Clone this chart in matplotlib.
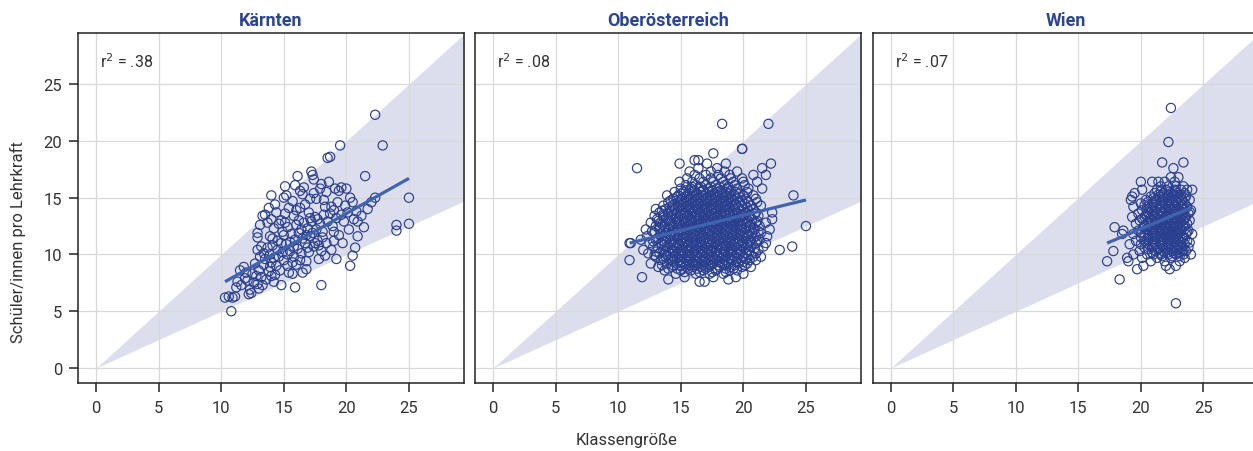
import matplotlib.pyplot as plt
import numpy as np

plt.rcParams['font.family'] = ['Roboto', 'DejaVu Sans']

regions = ["Kärnten", "Oberösterreich", "Wien"]
r2_labels = [".38", ".08", ".07"]

# Kärnten, read point by point
kaernten_pts = [
    (10.3, 6.2), (10.6, 6.3), (10.9, 6.2), (11.1, 6.3), (10.8, 5.0), (11.5, 8.6), (11.9, 7.9),
    (11.6, 7.3), (11.3, 7.6), (12.0, 8.4), (11.8, 8.9), (12.2, 6.5), (12.4, 6.6), (12.3, 6.9),
    (12.6, 7.5), (12.9, 7.4), (12.8, 8.1), (13.0, 8.6), (12.7, 9.2), (13.1, 9.8), (12.9, 10.4),
    (13.2, 10.7), (12.9, 11.5), (12.9, 11.9), (13.3, 13.4), (13.5, 13.5), (13.2, 8.0), (13.4, 9.1),
    (13.0, 7.0), (13.4, 10.1), (13.1, 12.6),
    (13.6, 7.8), (13.8, 8.5), (14.0, 9.3), (13.9, 10.0), (14.1, 10.8), (13.9, 11.6), (14.2, 12.3),
    (14.0, 13.1), (14.3, 14.4), (14.0, 15.2), (14.4, 9.0), (14.3, 8.2), (13.7, 12.8), (14.5, 11.2),
    (14.5, 10.4), (14.2, 7.6), (13.8, 14.1), (14.4, 13.7),
    (14.8, 7.3), (14.7, 8.6), (15.0, 9.5), (14.9, 10.2), (15.2, 10.9), (15.0, 11.7), (15.3, 12.4),
    (14.8, 13.0), (15.1, 13.6), (15.2, 15.2), (15.0, 15.0), (15.4, 14.1), (15.3, 9.0), (14.9, 12.0),
    (15.5, 11.1), (15.4, 8.4), (15.1, 16.0), (15.5, 10.3),
    (15.9, 7.1), (15.7, 8.3), (16.0, 9.1), (15.8, 9.8), (16.1, 10.5), (15.9, 11.3), (16.2, 11.9),
    (16.0, 12.6), (15.8, 13.4), (16.3, 14.1), (15.9, 16.1), (16.3, 15.6), (16.5, 15.3), (16.5, 8.4),
    (16.4, 10.1), (16.2, 13.0), (15.7, 14.7), (16.4, 12.2), (16.1, 16.9),
    (16.8, 9.4), (17.0, 10.2), (16.7, 11.0), (17.1, 11.6), (16.9, 12.3), (17.2, 12.9), (17.0, 13.7),
    (16.7, 14.4), (17.2, 17.3), (17.3, 17.0), (17.4, 16.6), (17.1, 14.9), (17.4, 10.7), (16.8, 8.7),
    (17.3, 11.9), (17.5, 13.3), (16.6, 15.9), (17.4, 15.4),
    (18.0, 7.3), (17.8, 9.6), (18.0, 10.3), (17.7, 11.2), (18.1, 12.0), (17.9, 12.7), (18.2, 13.5),
    (18.0, 16.2), (18.5, 18.5), (18.3, 14.2), (17.6, 14.9), (18.4, 11.0), (18.4, 15.5), (17.7, 13.1),
    (18.3, 9.9), (17.9, 15.8),
    (18.7, 18.6), (18.8, 10.4), (19.0, 11.2), (18.9, 12.5), (19.2, 13.2), (19.0, 13.9), (19.3, 14.6),
    (19.1, 15.8), (19.4, 15.6), (19.5, 19.6), (18.6, 16.4), (19.4, 11.7), (18.8, 14.2), (19.2, 9.6),
    (19.6, 15.9), (20.0, 15.8), (20.3, 15.0), (19.8, 12.9), (20.1, 13.7), (20.5, 9.9), (20.3, 9.0),
    (20.7, 10.6), (19.7, 11.0), (20.2, 12.2), (20.6, 13.1), (20.9, 12.9), (20.9, 11.6), (19.9, 14.3),
    (20.5, 14.6), (20.8, 13.8),
    (21.2, 13.4), (21.7, 14.0), (21.5, 16.9), (22.3, 15.0), (22.3, 22.3), (22.9, 19.6), (24.0, 12.6),
    (24.0, 12.1), (25.0, 12.7), (25.0, 15.0), (21.4, 12.4), (22.0, 14.6),
    (13.5, 9.6), (13.7, 10.6), (14.1, 11.4), (14.6, 9.8), (14.8, 11.0), (15.1, 12.8), (15.3, 10.0),
    (15.6, 11.8), (15.8, 10.7), (16.0, 13.9), (16.3, 9.5), (16.5, 11.4), (16.6, 12.8), (16.9, 10.6),
    (17.1, 13.2), (17.6, 12.2), (17.8, 10.8), (18.1, 11.5), (18.5, 12.9), (18.7, 13.6), (19.0, 12.0),
    (14.2, 9.7), (14.6, 12.7), (13.9, 8.9), (15.7, 9.3), (16.8, 11.7), (17.5, 11.0), (18.2, 14.8),
    (19.6, 13.5), (12.5, 8.3), (12.1, 7.7), (13.3, 7.3), (14.0, 8.1), (11.2, 7.1),
]

# Oberösterreich, read row by row (y value, x values in that row)
ooe_y_rows = [7.6, 7.8, 8.0, 8.3, 8.6, 8.9, 9.2, 9.5, 9.8, 10.1, 10.4, 10.7, 11.0, 11.3, 11.6,
              11.9, 12.2, 12.5, 12.8, 13.1, 13.4, 13.7, 14.0, 14.3, 14.6, 14.9, 15.2, 15.5, 15.8,
              16.1, 16.4, 16.7, 17.0, 17.3, 17.6, 18.0, 18.3, 18.9, 19.3, 21.5,
              8.45, 8.75, 9.05, 9.35, 9.65, 9.95, 10.25, 10.55, 10.85, 11.15, 11.45, 11.75, 12.05,
              12.35, 12.65, 12.95, 13.25, 13.55, 13.85, 14.15, 14.45, 14.75, 15.05, 15.35, 15.65, 15.95]
ooe_x_rows = [
    [16.5, 16.9],
    [14.0, 18.8],
    [11.9, 15.3, 17.6, 19.4],
    [14.6, 16.2, 17.3, 18.4, 20.0],
    [13.7, 15.0, 15.8, 16.8, 17.8, 18.9, 19.5],
    [13.2, 14.3, 15.4, 16.0, 16.6, 17.2, 18.1, 19.0, 19.9, 20.6],
    [12.6, 13.9, 14.7, 15.2, 15.9, 16.4, 17.0, 17.6, 18.3, 18.8, 19.6, 20.3],
    [10.9, 13.4, 14.2, 14.9, 15.5, 16.1, 16.7, 17.3, 17.9, 18.5, 19.1, 19.8, 20.5, 21.0],
    [13.0, 13.8, 14.5, 15.1, 15.7, 16.3, 16.9, 17.5, 18.0, 18.6, 19.3, 20.0, 20.8, 21.4],
    [12.4, 13.3, 14.1, 14.8, 15.3, 15.9, 16.5, 17.1, 17.7, 18.2, 18.8, 19.5, 20.2, 21.0],
    [12.0, 13.6, 14.4, 15.0, 15.6, 16.2, 16.8, 17.4, 17.9, 18.5, 19.1, 19.7, 20.4, 21.2, 22.9],
    [12.8, 13.9, 14.6, 15.2, 15.8, 16.4, 17.0, 17.6, 18.2, 18.7, 19.3, 20.0, 20.6, 21.6, 23.9],
    [10.9, 11.0, 12.5, 13.4, 14.2, 14.8, 15.4, 16.0, 16.6, 17.2, 17.8, 18.4, 19.0, 19.6, 20.3, 21.0, 21.8],
    [11.8, 13.0, 13.8, 14.5, 15.1, 15.7, 16.3, 16.9, 17.5, 18.1, 18.7, 19.3, 19.9, 20.6, 21.3],
    [12.3, 13.5, 14.2, 14.9, 15.5, 16.1, 16.7, 17.3, 17.9, 18.5, 19.1, 19.7, 20.3, 21.0, 21.9],
    [12.9, 13.8, 14.5, 15.2, 15.8, 16.4, 17.0, 17.6, 18.2, 18.8, 19.4, 20.0, 20.7, 21.4],
    [12.2, 13.3, 14.1, 14.8, 15.4, 16.0, 16.6, 17.2, 17.8, 18.4, 19.0, 19.6, 20.2, 20.9, 22.1],
    [13.0, 13.7, 14.4, 15.1, 15.7, 16.3, 16.9, 17.5, 18.1, 18.7, 19.3, 19.9, 20.5, 21.3, 25.0],
    [12.6, 13.4, 14.1, 14.8, 15.4, 16.0, 16.6, 17.2, 17.8, 18.4, 19.0, 19.6, 20.3, 21.0, 21.8],
    [13.1, 13.9, 14.6, 15.2, 15.8, 16.4, 17.0, 17.6, 18.2, 18.8, 19.4, 20.0, 20.7, 22.3],
    [12.9, 13.6, 14.3, 15.0, 15.6, 16.2, 16.8, 17.4, 18.0, 18.6, 19.2, 19.8, 20.5, 21.2],
    [13.3, 14.0, 14.7, 15.3, 15.9, 16.5, 17.1, 17.7, 18.3, 18.9, 19.5, 20.2, 21.0, 22.3],
    [13.0, 13.8, 14.5, 15.1, 15.7, 16.3, 16.9, 17.5, 18.1, 18.7, 19.3, 20.0, 20.8],
    [13.6, 14.3, 15.0, 15.6, 16.2, 16.8, 17.4, 18.0, 18.6, 19.2, 19.9, 20.6, 21.4],
    [14.0, 14.8, 15.4, 16.0, 16.6, 17.2, 17.8, 18.4, 19.0, 19.7, 20.4, 21.1],
    [14.4, 15.1, 15.8, 16.4, 17.0, 17.6, 18.2, 18.8, 19.5, 20.2, 21.0],
    [13.9, 14.8, 15.5, 16.2, 16.8, 17.4, 18.0, 18.6, 19.3, 20.0, 20.8, 24.0],
    [14.5, 15.2, 15.9, 16.6, 17.3, 17.9, 18.6, 19.4, 20.3],
    [15.0, 15.8, 16.5, 17.2, 17.9, 18.7, 19.5, 20.4, 21.5],
    [15.4, 16.2, 17.0, 17.8, 18.5, 19.3, 20.1],
    [14.9, 15.9, 16.8, 17.6, 18.4, 19.2, 20.0, 21.1],
    [15.5, 16.5, 17.4, 18.2, 19.0, 19.9],
    [16.1, 17.0, 18.0, 18.9, 20.8, 21.8],
    [15.7, 17.4, 18.5, 19.5],
    [11.5, 16.4, 17.9, 21.5],
    [14.9, 17.1, 18.6, 22.2],
    [16.1, 16.4],
    [17.6],
    [19.9, 19.9],
    [18.3, 22.0],
    # in-between rows of the dense core
    [15.3, 16.5, 17.5, 18.6],
    [14.0, 14.7, 15.6, 16.3, 17.0, 17.9, 18.6, 19.2],
    [13.5, 14.4, 15.0, 15.7, 16.2, 16.8, 17.4, 18.0, 18.5, 19.3, 20.1],
    [14.4, 15.0, 15.7, 16.3, 16.9, 17.4, 18.1, 18.7, 19.4, 20.0],
    [13.6, 14.2, 14.7, 15.3, 15.8, 16.5, 17.0, 17.7, 18.3, 18.9, 19.5, 20.2],
    [12.9, 13.9, 14.6, 15.0, 15.6, 16.2, 16.7, 17.3, 17.9, 18.4, 19.1, 19.7, 20.6],
    [13.0, 13.8, 14.4, 15.1, 15.6, 16.1, 16.7, 17.4, 17.8, 18.5, 19.0, 19.8, 20.5],
    [13.2, 14.1, 14.7, 15.4, 15.9, 16.5, 17.1, 17.6, 18.3, 18.9, 19.5, 20.1, 20.9],
    [13.7, 14.4, 14.9, 15.6, 16.2, 16.7, 17.4, 17.9, 18.5, 19.1, 19.8, 20.4],
    [12.8, 13.6, 14.3, 15.0, 15.5, 16.1, 16.6, 17.3, 17.8, 18.5, 19.0, 19.7, 20.5, 21.1],
    [13.2, 14.0, 14.7, 15.3, 15.9, 16.5, 17.0, 17.7, 18.2, 18.8, 19.5, 20.1, 20.8],
    [13.4, 14.2, 14.8, 15.4, 16.0, 16.7, 17.2, 17.9, 18.4, 19.1, 19.7, 20.4],
    [12.7, 13.6, 14.4, 15.0, 15.6, 16.2, 16.8, 17.3, 18.0, 18.6, 19.2, 19.8, 20.5, 21.2],
    [13.3, 14.0, 14.7, 15.3, 15.9, 16.5, 17.1, 17.7, 18.3, 18.9, 19.5, 20.2, 20.8],
    [13.5, 14.3, 14.9, 15.6, 16.2, 16.8, 17.4, 17.9, 18.5, 19.2, 19.8, 20.6],
    [13.2, 14.0, 14.7, 15.3, 15.9, 16.4, 17.1, 17.7, 18.3, 18.9, 19.6, 20.3, 21.1],
    [13.6, 14.2, 14.9, 15.5, 16.1, 16.8, 17.3, 17.9, 18.5, 19.1, 19.8, 20.5],
    [14.0, 14.6, 15.3, 15.9, 16.5, 17.0, 17.7, 18.2, 18.9, 19.5, 20.1, 20.9],
    [13.5, 14.3, 15.0, 15.6, 16.1, 16.7, 17.4, 17.9, 18.5, 19.2, 19.8, 20.4],
    [14.1, 14.8, 15.4, 16.0, 16.6, 17.1, 17.8, 18.4, 18.9, 19.6, 20.3],
    [14.5, 15.2, 15.8, 16.4, 17.0, 17.6, 18.2, 18.8, 19.4, 20.1],
    [14.2, 15.0, 15.6, 16.2, 16.8, 17.4, 18.0, 18.6, 19.2, 19.9],
    [14.7, 15.4, 16.0, 16.6, 17.2, 17.8, 18.4, 19.0, 19.7],
    [15.0, 15.7, 16.3, 17.0, 17.6, 18.3, 18.9, 19.7],
    [15.4, 16.1, 16.8, 17.5, 18.2, 19.0],
    [15.9, 16.6, 17.4, 18.1, 18.8],
]

# Wien, read row by row
wien_y_rows = [5.7, 7.8, 8.7, 9.0, 9.4, 9.7, 10.0, 10.3, 10.6, 10.9, 11.2, 11.5, 11.8, 12.1, 12.4,
               12.7, 13.0, 13.3, 13.6, 13.9, 14.2, 14.5, 14.8, 15.1, 15.4, 15.7, 16.0, 16.4, 16.8,
               17.6, 18.1, 19.9, 22.9,
               9.85, 10.15, 10.45, 10.75, 11.05, 11.35, 11.65, 11.95, 12.25, 12.55, 12.85, 13.15,
               13.45, 13.75, 14.05, 14.35, 14.65, 14.95, 15.25, 15.55]
wien_x_rows = [
    [22.8],
    [18.3],
    [19.7, 22.3],
    [20.2, 22.8, 22.0],
    [17.3, 19.0, 20.8, 21.9, 23.1],
    [18.9, 20.1, 21.3, 22.4, 23.5],
    [19.4, 20.5, 21.0, 21.6, 22.2, 22.8, 23.4, 24.0],
    [17.8, 19.9, 21.2, 21.8, 22.5, 23.3, 23.6],
    [20.3, 20.9, 21.5, 22.1, 22.7, 23.2, 23.8],
    [19.1, 20.0, 20.6, 21.2, 21.8, 22.4, 23.0, 23.5],
    [19.6, 20.3, 20.9, 21.5, 22.1, 22.6, 23.1, 23.7],
    [20.0, 20.6, 21.2, 21.8, 22.3, 22.8, 23.4],
    [18.5, 19.4, 20.3, 20.9, 21.5, 22.0, 22.5, 23.0, 23.6, 24.1],
    [18.6, 19.8, 20.6, 21.2, 21.7, 22.2, 22.7, 23.2, 23.8],
    [17.9, 20.2, 20.9, 21.4, 21.9, 22.4, 22.9, 23.4],
    [19.6, 20.5, 21.1, 21.6, 22.1, 22.6, 23.1, 23.7],
    [19.9, 20.8, 21.4, 21.9, 22.4, 22.9, 23.4, 23.9],
    [19.3, 20.3, 21.1, 21.6, 22.1, 22.6, 23.1, 23.6],
    [19.8, 20.6, 21.3, 21.8, 22.3, 22.8, 23.3, 23.8],
    [20.1, 20.9, 21.5, 22.0, 22.5, 23.0, 23.5, 24.0],
    [19.4, 20.5, 21.2, 21.7, 22.2, 22.7, 23.2, 23.7],
    [20.0, 20.9, 21.5, 22.0, 22.5, 23.0, 23.5],
    [19.2, 20.4, 21.2, 21.8, 22.3, 22.8, 23.3, 23.9],
    [19.3, 20.8, 21.5, 22.1, 22.6, 23.1, 23.6],
    [19.5, 21.1, 21.8, 22.4, 22.9, 23.5],
    [20.1, 21.3, 22.0, 22.7, 23.2, 23.7, 24.1],
    [21.6, 22.2, 22.8, 23.4],
    [20.0, 20.9, 21.4, 21.9, 22.7],
    [22.4, 23.0],
    [22.6],
    [21.7, 23.4],
    [22.2],
    [22.4],
    # in-between rows of the dense core
    [21.7, 22.5, 23.1],
    [20.9, 21.5, 22.1, 22.6, 23.1],
    [20.6, 21.4, 22.0, 22.4, 22.9, 23.4],
    [21.0, 21.7, 22.2, 22.9, 23.3],
    [20.4, 21.0, 21.6, 22.2, 22.7, 23.2, 23.9],
    [20.5, 21.1, 21.7, 22.3, 22.8, 23.5],
    [20.6, 21.2, 21.9, 22.4, 22.9, 23.3],
    [20.0, 21.0, 21.5, 22.1, 22.6, 23.1, 23.7],
    [20.5, 21.1, 21.7, 22.2, 22.6, 23.2],
    [20.3, 20.8, 21.3, 21.9, 22.4, 22.9, 23.5],
    [20.6, 21.2, 21.7, 22.2, 22.7, 23.2],
    [20.1, 20.7, 21.3, 21.8, 22.3, 22.9, 23.5],
    [20.4, 21.0, 21.5, 22.1, 22.5, 23.0],
    [20.5, 21.1, 21.7, 22.2, 22.7, 23.2, 23.9],
    [20.7, 21.3, 21.9, 22.4, 22.9, 23.4],
    [20.3, 21.0, 21.6, 22.2, 22.7, 23.3],
    [20.6, 21.2, 21.8, 22.3, 22.8],
    [21.0, 21.8, 22.4, 23.0, 23.5],
    [21.4, 22.1, 22.7, 23.2],
    [21.6, 22.3, 22.8],
]

# regression lines (start / end)
fit_x = [[10.3, 25.0], [10.9, 25.0], [17.3, 24.0]]
fit_y = [[7.6, 16.7], [11.0, 14.8], [11.0, 14.1]]

# shaded band between 1:2 and 1:1 ratio
band_low = 0.5
band_high = 1.0


def expand(y_rows, x_rows):
    xs, ys = [], []
    for y, row in zip(y_rows, x_rows):
        for x in row:
            xs.append(x)
            ys.append(y)
    return xs, ys


k_x = [p[0] for p in kaernten_pts]
k_y = [p[1] for p in kaernten_pts]
o_x, o_y = expand(ooe_y_rows, ooe_x_rows)
w_x, w_y = expand(wien_y_rows, wien_x_rows)
all_x = [k_x, o_x, w_x]
all_y = [k_y, o_y, w_y]

navy = '#2b3f8f'
line_col = '#4063b0'
band_col = '#dcdeed'
text_col = '#333333'

fig = plt.figure(figsize=(12.53, 4.52), dpi=100)
lefts = [78, 475, 872.5]
axes = []
for i in range(3):
    ax = fig.add_axes([lefts[i] / 1253, 1 - 384 / 452, 386 / 1253, 350 / 452])
    axes.append(ax)

    band_x = np.array([0, 35])
    ax.fill_between(band_x, band_low * band_x, band_high * band_x, color=band_col, lw=0, zorder=0.2)

    ax.scatter(all_x[i], all_y[i], s=44, facecolors='none', edgecolors=navy, linewidths=0.85, zorder=3)
    ax.plot(fit_x[i], fit_y[i], color=line_col, lw=2.3, zorder=4, solid_capstyle='butt')

    ax.set_xlim(-1.45, 29.4)
    ax.set_ylim(-1.32, 29.5)
    ax.set_xticks([0, 5, 10, 15, 20, 25])
    ax.set_yticks([0, 5, 10, 15, 20, 25])
    ax.grid(color='#d8d8d8', lw=0.9)
    ax.set_axisbelow(True)
    for sp in ax.spines.values():
        sp.set_color('#222222')
        sp.set_linewidth(1.1)
    ax.tick_params(axis='x', length=6.5, width=1.1, color='#222222', pad=6, labelsize=12, labelcolor=text_col)
    if i == 0:
        ax.tick_params(axis='y', length=6.5, width=1.1, color='#222222', pad=5, labelsize=12, labelcolor=text_col)
    else:
        ax.tick_params(axis='y', length=0, labelleft=False)

    ax.set_title(regions[i], color='#2c4593', fontweight='bold', fontsize=13, pad=6)
    ax.text(0.057, 0.92, 'r$^2$ = ' + r2_labels[i], transform=ax.transAxes, ha='left', va='center',
            fontsize=11.5, color=text_col)

fig.text(0.0145, 0.465, 'Schüler/innen pro Lehrkraft', rotation=90, ha='center', va='center',
         fontsize=12, color=text_col)
fig.text(0.5, 0.025, 'Klassengröße', ha='center', va='center', fontsize=12, color=text_col)

plt.savefig('out.png', dpi=100)
